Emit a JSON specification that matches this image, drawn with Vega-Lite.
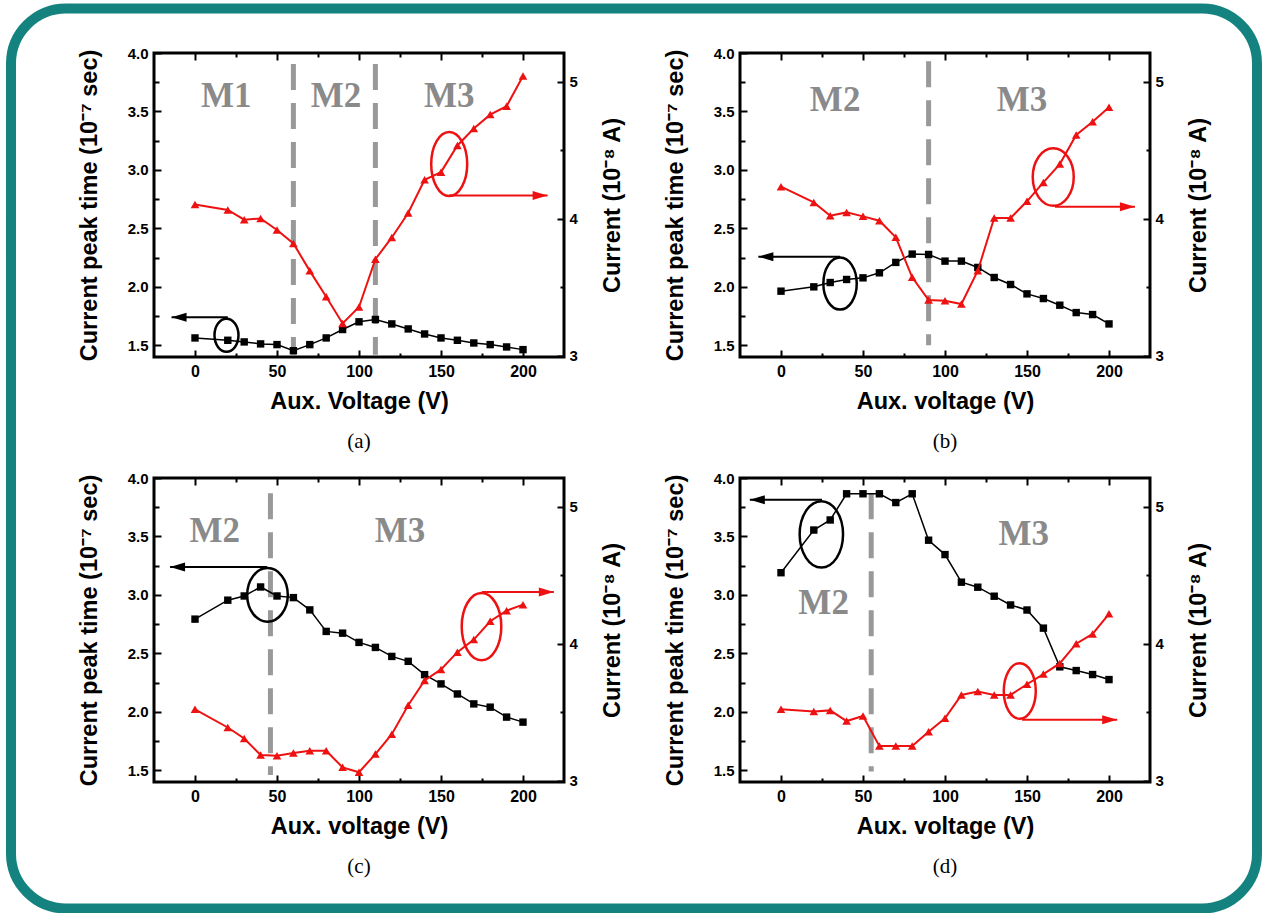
{
"$schema": "https://vega.github.io/schema/vega-lite/v6.json",
"background": "white",
"padding": {"left": 6, "top": 3, "right": 1, "bottom": 0},
"datasets": {
"series": [
{"p":"a","v":0,"t":1.563,"c":4.103},{"p":"a","v":20,"t":1.543,"c":4.064},{"p":"a","v":30,"t":1.529,"c":3.993},{"p":"a","v":40,"t":1.512,"c":4.002},{"p":"a","v":50,"t":1.506,"c":3.917},{"p":"a","v":60,"t":1.454,"c":3.819},{"p":"a","v":70,"t":1.506,"c":3.619},{"p":"a","v":80,"t":1.563,"c":3.43},{"p":"a","v":90,"t":1.635,"c":3.235},{"p":"a","v":100,"t":1.701,"c":3.355},{"p":"a","v":110,"t":1.721,"c":3.704},{"p":"a","v":120,"t":1.683,"c":3.863},{"p":"a","v":130,"t":1.64,"c":4.042},{"p":"a","v":140,"t":1.597,"c":4.284},{"p":"a","v":150,"t":1.563,"c":4.34},{"p":"a","v":160,"t":1.543,"c":4.535},{"p":"a","v":170,"t":1.52,"c":4.658},{"p":"a","v":180,"t":1.506,"c":4.76},{"p":"a","v":190,"t":1.486,"c":4.822},{"p":"a","v":200,"t":1.463,"c":5.042},
{"p":"b","v":0,"t":1.963,"c":4.234},{"p":"b","v":20,"t":2.0,"c":4.119},{"p":"b","v":30,"t":2.037,"c":4.022},{"p":"b","v":40,"t":2.063,"c":4.046},{"p":"b","v":50,"t":2.077,"c":4.017},{"p":"b","v":60,"t":2.12,"c":3.985},{"p":"b","v":70,"t":2.209,"c":3.864},{"p":"b","v":80,"t":2.28,"c":3.572},{"p":"b","v":90,"t":2.277,"c":3.406},{"p":"b","v":100,"t":2.22,"c":3.401},{"p":"b","v":110,"t":2.22,"c":3.377},{"p":"b","v":120,"t":2.166,"c":3.62},{"p":"b","v":130,"t":2.08,"c":4.005},{"p":"b","v":140,"t":2.02,"c":4.005},{"p":"b","v":150,"t":1.94,"c":4.127},{"p":"b","v":160,"t":1.9,"c":4.265},{"p":"b","v":170,"t":1.843,"c":4.399},{"p":"b","v":180,"t":1.78,"c":4.611},{"p":"b","v":190,"t":1.763,"c":4.708},{"p":"b","v":200,"t":1.683,"c":4.813},
{"p":"c","v":0,"t":2.793,"c":3.521},{"p":"c","v":20,"t":2.955,"c":3.388},{"p":"c","v":30,"t":2.991,"c":3.308},{"p":"c","v":40,"t":3.068,"c":3.187},{"p":"c","v":50,"t":2.991,"c":3.182},{"p":"c","v":60,"t":2.977,"c":3.201},{"p":"c","v":70,"t":2.872,"c":3.218},{"p":"c","v":80,"t":2.688,"c":3.218},{"p":"c","v":90,"t":2.673,"c":3.097},{"p":"c","v":100,"t":2.594,"c":3.061},{"p":"c","v":110,"t":2.551,"c":3.194},{"p":"c","v":120,"t":2.474,"c":3.339},{"p":"c","v":130,"t":2.432,"c":3.55},{"p":"c","v":140,"t":2.318,"c":3.732},{"p":"c","v":150,"t":2.239,"c":3.812},{"p":"c","v":160,"t":2.153,"c":3.938},{"p":"c","v":170,"t":2.068,"c":4.03},{"p":"c","v":180,"t":2.04,"c":4.164},{"p":"c","v":190,"t":1.955,"c":4.241},{"p":"c","v":200,"t":1.912,"c":4.285},
{"p":"d","v":0,"t":3.19,"c":3.521},{"p":"d","v":20,"t":3.555,"c":3.504},{"p":"d","v":30,"t":3.641,"c":3.513},{"p":"d","v":40,"t":3.865,"c":3.435},{"p":"d","v":50,"t":3.865,"c":3.472},{"p":"d","v":60,"t":3.865,"c":3.252},{"p":"d","v":70,"t":3.79,"c":3.252},{"p":"d","v":80,"t":3.865,"c":3.252},{"p":"d","v":90,"t":3.468,"c":3.357},{"p":"d","v":100,"t":3.345,"c":3.455},{"p":"d","v":110,"t":3.109,"c":3.626},{"p":"d","v":120,"t":3.066,"c":3.65},{"p":"d","v":130,"t":2.989,"c":3.626},{"p":"d","v":140,"t":2.914,"c":3.626},{"p":"d","v":150,"t":2.871,"c":3.704},{"p":"d","v":160,"t":2.716,"c":3.778},{"p":"d","v":170,"t":2.385,"c":3.856},{"p":"d","v":180,"t":2.353,"c":4.0},{"p":"d","v":190,"t":2.319,"c":4.071},{"p":"d","v":200,"t":2.276,"c":4.218}
],
"div": [
{"p":"a","v":60,"t":3.905,"t2":1.42},{"p":"a","v":110,"t":3.905,"t2":1.42},
{"p":"b","v":90,"t":3.93,"t2":1.5},
{"p":"c","v":46,"t":3.87,"t2":1.46},
{"p":"d","v":55,"t":3.87,"t2":1.49}
],
"reg": [
{"p":"a","v":19,"t":3.63,"label":"M1"},{"p":"a","v":86,"t":3.63,"label":"M2"},{"p":"a","v":155,"t":3.63,"label":"M3"},
{"p":"b","v":33,"t":3.6,"label":"M2"},{"p":"b","v":147,"t":3.6,"label":"M3"},
{"p":"c","v":12,"t":3.545,"label":"M2"},{"p":"c","v":125,"t":3.545,"label":"M3"},
{"p":"d","v":26,"t":2.93,"label":"M2"},{"p":"d","v":148,"t":3.52,"label":"M3"}
],
"ellk": [
{"p":"a","id":"ak","v":19.2,"t":1.586},{"p":"b","id":"bk","v":36,"t":2.028},{"p":"c","id":"ck","v":44.2,"t":3.0},{"p":"d","id":"dk","v":24.6,"t":3.518}
],
"ellr": [
{"p":"a","id":"ar","v":155,"c":4.4},{"p":"b","id":"br","v":166,"c":4.304},{"p":"c","id":"cr","v":174.7,"c":4.125},{"p":"d","id":"dr","v":145.6,"c":3.655}
],
"arrk": [
{"p":"a","v":-14.3,"v2":20,"t":1.74},{"p":"b","v":-13.8,"v2":36,"t":2.258},{"p":"c","v":-15.2,"v2":44,"t":3.238},{"p":"d","v":-19,"v2":25,"t":3.813}
],
"arrr": [
{"p":"a","v":215,"v2":155,"c":4.17},{"p":"b","v":215.8,"v2":167,"c":4.088},{"p":"c","v":218.8,"v2":175,"c":4.377},{"p":"d","v":205,"v2":147,"c":3.444}
]
},
"columns": 2,
"spacing": {"row": 121, "column": 176},
"bounds": "flush",
"concat": [
{
"width": 410, "height": 304, "title": "(a)",
"layer": [
{"encoding": {
"x": {"field":"v","type":"quantitative","scale":{"domain":[-25,225],"nice":false,"zero":false},"axis":{"orient":"bottom","title":"Aux. Voltage (V)","values":[0,25,50,75,100,125,150,175,200],"labelExpr":"datum.value % 50 === 0 ? datum.label : ''","tickSize":{"condition":{"test":"datum.value % 50 === 0","value":-7},"value":-4},"labelPadding":13,"titlePadding":7,"labelFontSize":16}},
"y": {"field":"t","type":"quantitative","scale":{"domain":[1.4,4.0],"nice":false,"zero":false},"axis":{"orient":"left","title":"Current peak time (10⁻⁷ sec)","values":[1.5,1.75,2,2.25,2.5,2.75,3,3.25,3.5,3.75,4],"labelExpr":"abs(datum.value*2-round(datum.value*2))<0.01 ? format(datum.value,'.1f') : ''","tickSize":{"condition":{"test":"abs(datum.value*2-round(datum.value*2))<0.01","value":-7},"value":-5},"labelPadding":13,"titlePadding":26,"labelFontSize":15}}},
"layer": [
{"data":{"name":"div"},"transform":[{"filter":"datum.p==='a'"}],"mark":{"type":"rule","color":"#999999","strokeWidth":5,"strokeDash":[26,13]},"encoding":{"y2":{"field":"t2"}}},
{"data":{"name":"reg"},"transform":[{"filter":"datum.p==='a'"}],"mark":{"type":"text","font":"Liberation Serif","fontWeight":"bold","fontSize":35,"color":"#8a8a8a","align":"center","baseline":"middle"},"encoding":{"text":{"field":"label","type":"nominal"}}},
{"data":{"name":"series"},"transform":[{"filter":"datum.p==='a'"}],"mark":{"type":"line","color":"black","strokeWidth":1.5,"point":{"shape":"square","size":55,"filled":true,"color":"black","opacity":1}}},
{"data":{"name":"ellk"},"transform":[{"filter":"datum.p==='a'"}],"mark":{"type":"point","filled":false,"size":4,"color":"black","strokeWidth":2.5,"opacity":1},"encoding":{"shape":{"field":"id","type":"nominal","legend":null,"scale":{"domain":["ak","ar","bk","br","ck","cr","dk","dr"],"range":["M0,-16.5A12,16.5,0,1,1,0,16.5A12,16.5,0,1,1,0,-16.5Z","M0,-32A18,32,0,1,1,0,32A18,32,0,1,1,0,-32Z","M0,-26A16.7,26,0,1,1,0,26A16.7,26,0,1,1,0,-26Z","M0,-28.7A20.5,28.7,0,1,1,0,28.7A20.5,28.7,0,1,1,0,-28.7Z","M0,-26.8A20.3,26.8,0,1,1,0,26.8A20.3,26.8,0,1,1,0,-26.8Z","M0,-33.7A19.8,33.7,0,1,1,0,33.7A19.8,33.7,0,1,1,0,-33.7Z","M0,-33.2A21.7,33.2,0,1,1,0,33.2A21.7,33.2,0,1,1,0,-33.2Z","M0,-27.8A16,27.8,0,1,1,0,27.8A16,27.8,0,1,1,0,-27.8Z"]}}}},
{"data":{"name":"arrk"},"transform":[{"filter":"datum.p==='a'"}],"mark":{"type":"rule","color":"black","strokeWidth":2},"encoding":{"x2":{"field":"v2"}}},
{"data":{"name":"arrk"},"transform":[{"filter":"datum.p==='a'"}],"mark":{"type":"point","shape":"M0,0L15,-4.5L15,4.5Z","size":4,"filled":true,"color":"black","opacity":1}}
]},
{"encoding": {
"x": {"field":"v","type":"quantitative","scale":{"domain":[-25,225],"nice":false,"zero":false},"axis":{"orient":"top","title":null,"labels":false,"values":[0,25,50,75,100,125,150,175,200],"tickSize":{"condition":{"test":"datum.value % 50 === 0","value":-7},"value":-4}}},
"y": {"field":"c","type":"quantitative","scale":{"domain":[2.99,5.21],"nice":false,"zero":false},"axis":{"orient":"right","title":"Current (10⁻⁸ A)","titleAngle":270,"titleBaseline":"top","values":[3,3.5,4,4.5,5],"labelExpr":"abs(datum.value-round(datum.value))<0.01 ? format(datum.value,'.0f') : ''","tickSize":{"condition":{"test":"abs(datum.value-round(datum.value))<0.01","value":-7},"value":-4},"labelPadding":12,"titlePadding":23,"labelFontSize":15}}},
"layer": [
{"data":{"name":"series"},"transform":[{"filter":"datum.p==='a'"}],"mark":{"type":"line","color":"#ee1111","strokeWidth":2,"point":{"shape":"triangle-up","size":75,"filled":true,"color":"#ee1111","opacity":1}}},
{"data":{"name":"ellr"},"transform":[{"filter":"datum.p==='a'"}],"mark":{"type":"point","filled":false,"size":4,"color":"#ee1111","strokeWidth":2.5,"opacity":1},"encoding":{"shape":{"field":"id","type":"nominal","legend":null,"scale":{"domain":["ak","ar","bk","br","ck","cr","dk","dr"],"range":["M0,-16.5A12,16.5,0,1,1,0,16.5A12,16.5,0,1,1,0,-16.5Z","M0,-32A18,32,0,1,1,0,32A18,32,0,1,1,0,-32Z","M0,-26A16.7,26,0,1,1,0,26A16.7,26,0,1,1,0,-26Z","M0,-28.7A20.5,28.7,0,1,1,0,28.7A20.5,28.7,0,1,1,0,-28.7Z","M0,-26.8A20.3,26.8,0,1,1,0,26.8A20.3,26.8,0,1,1,0,-26.8Z","M0,-33.7A19.8,33.7,0,1,1,0,33.7A19.8,33.7,0,1,1,0,-33.7Z","M0,-33.2A21.7,33.2,0,1,1,0,33.2A21.7,33.2,0,1,1,0,-33.2Z","M0,-27.8A16,27.8,0,1,1,0,27.8A16,27.8,0,1,1,0,-27.8Z"]}}}},
{"data":{"name":"arrr"},"transform":[{"filter":"datum.p==='a'"}],"mark":{"type":"rule","color":"#ee1111","strokeWidth":2},"encoding":{"x2":{"field":"v2"}}},
{"data":{"name":"arrr"},"transform":[{"filter":"datum.p==='a'"}],"mark":{"type":"point","shape":"M0,0L-15,-4.5L-15,4.5Z","size":4,"filled":true,"color":"#ee1111","opacity":1}}
]},
{"data":{"values":[{"z":0},{"z":1}]},"mark":{"type":"point","opacity":0},"encoding":{"color":{"field":"z","type":"quantitative","scale":{"range":["#ffffff","#ffffff"]},"legend":{"orient":"none","legendX":-143,"legendY":-44.5,"direction":"horizontal","gradientLength":1246,"gradientThickness":899,"gradientOpacity":0,"gradientStrokeWidth":0,"labelExpr":"''","labelFontSize":1,"labelOffset":0,"labelOpacity":0,"title":null,"strokeColor":"#14827e","cornerRadius":55,"padding":0}}}}
],
"resolve": {"scale": {"y": "independent"}}
},
{
"width": 410, "height": 304, "title": "(b)",
"layer": [
{"encoding": {
"x": {"field":"v","type":"quantitative","scale":{"domain":[-25,225],"nice":false,"zero":false},"axis":{"orient":"bottom","title":"Aux. voltage (V)","values":[0,25,50,75,100,125,150,175,200],"labelExpr":"datum.value % 50 === 0 ? datum.label : ''","tickSize":{"condition":{"test":"datum.value % 50 === 0","value":-7},"value":-4},"labelPadding":13,"titlePadding":7,"labelFontSize":16}},
"y": {"field":"t","type":"quantitative","scale":{"domain":[1.4,4.0],"nice":false,"zero":false},"axis":{"orient":"left","title":"Current peak time (10⁻⁷ sec)","values":[1.5,1.75,2,2.25,2.5,2.75,3,3.25,3.5,3.75,4],"labelExpr":"abs(datum.value*2-round(datum.value*2))<0.01 ? format(datum.value,'.1f') : ''","tickSize":{"condition":{"test":"abs(datum.value*2-round(datum.value*2))<0.01","value":-7},"value":-5},"labelPadding":13,"titlePadding":26,"labelFontSize":15}}},
"layer": [
{"data":{"name":"div"},"transform":[{"filter":"datum.p==='b'"}],"mark":{"type":"rule","color":"#999999","strokeWidth":5,"strokeDash":[26,13]},"encoding":{"y2":{"field":"t2"}}},
{"data":{"name":"reg"},"transform":[{"filter":"datum.p==='b'"}],"mark":{"type":"text","font":"Liberation Serif","fontWeight":"bold","fontSize":35,"color":"#8a8a8a","align":"center","baseline":"middle"},"encoding":{"text":{"field":"label","type":"nominal"}}},
{"data":{"name":"series"},"transform":[{"filter":"datum.p==='b'"}],"mark":{"type":"line","color":"black","strokeWidth":1.5,"point":{"shape":"square","size":55,"filled":true,"color":"black","opacity":1}}},
{"data":{"name":"ellk"},"transform":[{"filter":"datum.p==='b'"}],"mark":{"type":"point","filled":false,"size":4,"color":"black","strokeWidth":2.5,"opacity":1},"encoding":{"shape":{"field":"id","type":"nominal","legend":null,"scale":{"domain":["ak","ar","bk","br","ck","cr","dk","dr"],"range":["M0,-16.5A12,16.5,0,1,1,0,16.5A12,16.5,0,1,1,0,-16.5Z","M0,-32A18,32,0,1,1,0,32A18,32,0,1,1,0,-32Z","M0,-26A16.7,26,0,1,1,0,26A16.7,26,0,1,1,0,-26Z","M0,-28.7A20.5,28.7,0,1,1,0,28.7A20.5,28.7,0,1,1,0,-28.7Z","M0,-26.8A20.3,26.8,0,1,1,0,26.8A20.3,26.8,0,1,1,0,-26.8Z","M0,-33.7A19.8,33.7,0,1,1,0,33.7A19.8,33.7,0,1,1,0,-33.7Z","M0,-33.2A21.7,33.2,0,1,1,0,33.2A21.7,33.2,0,1,1,0,-33.2Z","M0,-27.8A16,27.8,0,1,1,0,27.8A16,27.8,0,1,1,0,-27.8Z"]}}}},
{"data":{"name":"arrk"},"transform":[{"filter":"datum.p==='b'"}],"mark":{"type":"rule","color":"black","strokeWidth":2},"encoding":{"x2":{"field":"v2"}}},
{"data":{"name":"arrk"},"transform":[{"filter":"datum.p==='b'"}],"mark":{"type":"point","shape":"M0,0L15,-4.5L15,4.5Z","size":4,"filled":true,"color":"black","opacity":1}}
]},
{"encoding": {
"x": {"field":"v","type":"quantitative","scale":{"domain":[-25,225],"nice":false,"zero":false},"axis":{"orient":"top","title":null,"labels":false,"values":[0,25,50,75,100,125,150,175,200],"tickSize":{"condition":{"test":"datum.value % 50 === 0","value":-7},"value":-4}}},
"y": {"field":"c","type":"quantitative","scale":{"domain":[2.99,5.21],"nice":false,"zero":false},"axis":{"orient":"right","title":"Current (10⁻⁸ A)","titleAngle":270,"titleBaseline":"top","values":[3,3.5,4,4.5,5],"labelExpr":"abs(datum.value-round(datum.value))<0.01 ? format(datum.value,'.0f') : ''","tickSize":{"condition":{"test":"abs(datum.value-round(datum.value))<0.01","value":-7},"value":-4},"labelPadding":12,"titlePadding":23,"labelFontSize":15}}},
"layer": [
{"data":{"name":"series"},"transform":[{"filter":"datum.p==='b'"}],"mark":{"type":"line","color":"#ee1111","strokeWidth":2,"point":{"shape":"triangle-up","size":75,"filled":true,"color":"#ee1111","opacity":1}}},
{"data":{"name":"ellr"},"transform":[{"filter":"datum.p==='b'"}],"mark":{"type":"point","filled":false,"size":4,"color":"#ee1111","strokeWidth":2.5,"opacity":1},"encoding":{"shape":{"field":"id","type":"nominal","legend":null,"scale":{"domain":["ak","ar","bk","br","ck","cr","dk","dr"],"range":["M0,-16.5A12,16.5,0,1,1,0,16.5A12,16.5,0,1,1,0,-16.5Z","M0,-32A18,32,0,1,1,0,32A18,32,0,1,1,0,-32Z","M0,-26A16.7,26,0,1,1,0,26A16.7,26,0,1,1,0,-26Z","M0,-28.7A20.5,28.7,0,1,1,0,28.7A20.5,28.7,0,1,1,0,-28.7Z","M0,-26.8A20.3,26.8,0,1,1,0,26.8A20.3,26.8,0,1,1,0,-26.8Z","M0,-33.7A19.8,33.7,0,1,1,0,33.7A19.8,33.7,0,1,1,0,-33.7Z","M0,-33.2A21.7,33.2,0,1,1,0,33.2A21.7,33.2,0,1,1,0,-33.2Z","M0,-27.8A16,27.8,0,1,1,0,27.8A16,27.8,0,1,1,0,-27.8Z"]}}}},
{"data":{"name":"arrr"},"transform":[{"filter":"datum.p==='b'"}],"mark":{"type":"rule","color":"#ee1111","strokeWidth":2},"encoding":{"x2":{"field":"v2"}}},
{"data":{"name":"arrr"},"transform":[{"filter":"datum.p==='b'"}],"mark":{"type":"point","shape":"M0,0L-15,-4.5L-15,4.5Z","size":4,"filled":true,"color":"#ee1111","opacity":1}}
]}
],
"resolve": {"scale": {"y": "independent"}}
},
{
"width": 410, "height": 304, "title": "(c)",
"layer": [
{"encoding": {
"x": {"field":"v","type":"quantitative","scale":{"domain":[-25,225],"nice":false,"zero":false},"axis":{"orient":"bottom","title":"Aux. voltage (V)","values":[0,25,50,75,100,125,150,175,200],"labelExpr":"datum.value % 50 === 0 ? datum.label : ''","tickSize":{"condition":{"test":"datum.value % 50 === 0","value":-7},"value":-4},"labelPadding":13,"titlePadding":7,"labelFontSize":16}},
"y": {"field":"t","type":"quantitative","scale":{"domain":[1.4,4.0],"nice":false,"zero":false},"axis":{"orient":"left","title":"Current peak time (10⁻⁷ sec)","values":[1.5,1.75,2,2.25,2.5,2.75,3,3.25,3.5,3.75,4],"labelExpr":"abs(datum.value*2-round(datum.value*2))<0.01 ? format(datum.value,'.1f') : ''","tickSize":{"condition":{"test":"abs(datum.value*2-round(datum.value*2))<0.01","value":-7},"value":-5},"labelPadding":13,"titlePadding":26,"labelFontSize":15}}},
"layer": [
{"data":{"name":"div"},"transform":[{"filter":"datum.p==='c'"}],"mark":{"type":"rule","color":"#999999","strokeWidth":5,"strokeDash":[26,13]},"encoding":{"y2":{"field":"t2"}}},
{"data":{"name":"reg"},"transform":[{"filter":"datum.p==='c'"}],"mark":{"type":"text","font":"Liberation Serif","fontWeight":"bold","fontSize":35,"color":"#8a8a8a","align":"center","baseline":"middle"},"encoding":{"text":{"field":"label","type":"nominal"}}},
{"data":{"name":"series"},"transform":[{"filter":"datum.p==='c'"}],"mark":{"type":"line","color":"black","strokeWidth":1.5,"point":{"shape":"square","size":55,"filled":true,"color":"black","opacity":1}}},
{"data":{"name":"ellk"},"transform":[{"filter":"datum.p==='c'"}],"mark":{"type":"point","filled":false,"size":4,"color":"black","strokeWidth":2.5,"opacity":1},"encoding":{"shape":{"field":"id","type":"nominal","legend":null,"scale":{"domain":["ak","ar","bk","br","ck","cr","dk","dr"],"range":["M0,-16.5A12,16.5,0,1,1,0,16.5A12,16.5,0,1,1,0,-16.5Z","M0,-32A18,32,0,1,1,0,32A18,32,0,1,1,0,-32Z","M0,-26A16.7,26,0,1,1,0,26A16.7,26,0,1,1,0,-26Z","M0,-28.7A20.5,28.7,0,1,1,0,28.7A20.5,28.7,0,1,1,0,-28.7Z","M0,-26.8A20.3,26.8,0,1,1,0,26.8A20.3,26.8,0,1,1,0,-26.8Z","M0,-33.7A19.8,33.7,0,1,1,0,33.7A19.8,33.7,0,1,1,0,-33.7Z","M0,-33.2A21.7,33.2,0,1,1,0,33.2A21.7,33.2,0,1,1,0,-33.2Z","M0,-27.8A16,27.8,0,1,1,0,27.8A16,27.8,0,1,1,0,-27.8Z"]}}}},
{"data":{"name":"arrk"},"transform":[{"filter":"datum.p==='c'"}],"mark":{"type":"rule","color":"black","strokeWidth":2},"encoding":{"x2":{"field":"v2"}}},
{"data":{"name":"arrk"},"transform":[{"filter":"datum.p==='c'"}],"mark":{"type":"point","shape":"M0,0L15,-4.5L15,4.5Z","size":4,"filled":true,"color":"black","opacity":1}}
]},
{"encoding": {
"x": {"field":"v","type":"quantitative","scale":{"domain":[-25,225],"nice":false,"zero":false},"axis":{"orient":"top","title":null,"labels":false,"values":[0,25,50,75,100,125,150,175,200],"tickSize":{"condition":{"test":"datum.value % 50 === 0","value":-7},"value":-4}}},
"y": {"field":"c","type":"quantitative","scale":{"domain":[2.99,5.21],"nice":false,"zero":false},"axis":{"orient":"right","title":"Current (10⁻⁸ A)","titleAngle":270,"titleBaseline":"top","values":[3,3.5,4,4.5,5],"labelExpr":"abs(datum.value-round(datum.value))<0.01 ? format(datum.value,'.0f') : ''","tickSize":{"condition":{"test":"abs(datum.value-round(datum.value))<0.01","value":-7},"value":-4},"labelPadding":12,"titlePadding":23,"labelFontSize":15}}},
"layer": [
{"data":{"name":"series"},"transform":[{"filter":"datum.p==='c'"}],"mark":{"type":"line","color":"#ee1111","strokeWidth":2,"point":{"shape":"triangle-up","size":75,"filled":true,"color":"#ee1111","opacity":1}}},
{"data":{"name":"ellr"},"transform":[{"filter":"datum.p==='c'"}],"mark":{"type":"point","filled":false,"size":4,"color":"#ee1111","strokeWidth":2.5,"opacity":1},"encoding":{"shape":{"field":"id","type":"nominal","legend":null,"scale":{"domain":["ak","ar","bk","br","ck","cr","dk","dr"],"range":["M0,-16.5A12,16.5,0,1,1,0,16.5A12,16.5,0,1,1,0,-16.5Z","M0,-32A18,32,0,1,1,0,32A18,32,0,1,1,0,-32Z","M0,-26A16.7,26,0,1,1,0,26A16.7,26,0,1,1,0,-26Z","M0,-28.7A20.5,28.7,0,1,1,0,28.7A20.5,28.7,0,1,1,0,-28.7Z","M0,-26.8A20.3,26.8,0,1,1,0,26.8A20.3,26.8,0,1,1,0,-26.8Z","M0,-33.7A19.8,33.7,0,1,1,0,33.7A19.8,33.7,0,1,1,0,-33.7Z","M0,-33.2A21.7,33.2,0,1,1,0,33.2A21.7,33.2,0,1,1,0,-33.2Z","M0,-27.8A16,27.8,0,1,1,0,27.8A16,27.8,0,1,1,0,-27.8Z"]}}}},
{"data":{"name":"arrr"},"transform":[{"filter":"datum.p==='c'"}],"mark":{"type":"rule","color":"#ee1111","strokeWidth":2},"encoding":{"x2":{"field":"v2"}}},
{"data":{"name":"arrr"},"transform":[{"filter":"datum.p==='c'"}],"mark":{"type":"point","shape":"M0,0L-15,-4.5L-15,4.5Z","size":4,"filled":true,"color":"#ee1111","opacity":1}}
]}
],
"resolve": {"scale": {"y": "independent"}}
},
{
"width": 410, "height": 304, "title": "(d)",
"layer": [
{"encoding": {
"x": {"field":"v","type":"quantitative","scale":{"domain":[-25,225],"nice":false,"zero":false},"axis":{"orient":"bottom","title":"Aux. voltage (V)","values":[0,25,50,75,100,125,150,175,200],"labelExpr":"datum.value % 50 === 0 ? datum.label : ''","tickSize":{"condition":{"test":"datum.value % 50 === 0","value":-7},"value":-4},"labelPadding":13,"titlePadding":7,"labelFontSize":16}},
"y": {"field":"t","type":"quantitative","scale":{"domain":[1.4,4.0],"nice":false,"zero":false},"axis":{"orient":"left","title":"Current peak time (10⁻⁷ sec)","values":[1.5,1.75,2,2.25,2.5,2.75,3,3.25,3.5,3.75,4],"labelExpr":"abs(datum.value*2-round(datum.value*2))<0.01 ? format(datum.value,'.1f') : ''","tickSize":{"condition":{"test":"abs(datum.value*2-round(datum.value*2))<0.01","value":-7},"value":-5},"labelPadding":13,"titlePadding":26,"labelFontSize":15}}},
"layer": [
{"data":{"name":"div"},"transform":[{"filter":"datum.p==='d'"}],"mark":{"type":"rule","color":"#999999","strokeWidth":5,"strokeDash":[26,13]},"encoding":{"y2":{"field":"t2"}}},
{"data":{"name":"reg"},"transform":[{"filter":"datum.p==='d'"}],"mark":{"type":"text","font":"Liberation Serif","fontWeight":"bold","fontSize":35,"color":"#8a8a8a","align":"center","baseline":"middle"},"encoding":{"text":{"field":"label","type":"nominal"}}},
{"data":{"name":"series"},"transform":[{"filter":"datum.p==='d'"}],"mark":{"type":"line","color":"black","strokeWidth":1.5,"point":{"shape":"square","size":55,"filled":true,"color":"black","opacity":1}}},
{"data":{"name":"ellk"},"transform":[{"filter":"datum.p==='d'"}],"mark":{"type":"point","filled":false,"size":4,"color":"black","strokeWidth":2.5,"opacity":1},"encoding":{"shape":{"field":"id","type":"nominal","legend":null,"scale":{"domain":["ak","ar","bk","br","ck","cr","dk","dr"],"range":["M0,-16.5A12,16.5,0,1,1,0,16.5A12,16.5,0,1,1,0,-16.5Z","M0,-32A18,32,0,1,1,0,32A18,32,0,1,1,0,-32Z","M0,-26A16.7,26,0,1,1,0,26A16.7,26,0,1,1,0,-26Z","M0,-28.7A20.5,28.7,0,1,1,0,28.7A20.5,28.7,0,1,1,0,-28.7Z","M0,-26.8A20.3,26.8,0,1,1,0,26.8A20.3,26.8,0,1,1,0,-26.8Z","M0,-33.7A19.8,33.7,0,1,1,0,33.7A19.8,33.7,0,1,1,0,-33.7Z","M0,-33.2A21.7,33.2,0,1,1,0,33.2A21.7,33.2,0,1,1,0,-33.2Z","M0,-27.8A16,27.8,0,1,1,0,27.8A16,27.8,0,1,1,0,-27.8Z"]}}}},
{"data":{"name":"arrk"},"transform":[{"filter":"datum.p==='d'"}],"mark":{"type":"rule","color":"black","strokeWidth":2},"encoding":{"x2":{"field":"v2"}}},
{"data":{"name":"arrk"},"transform":[{"filter":"datum.p==='d'"}],"mark":{"type":"point","shape":"M0,0L15,-4.5L15,4.5Z","size":4,"filled":true,"color":"black","opacity":1}}
]},
{"encoding": {
"x": {"field":"v","type":"quantitative","scale":{"domain":[-25,225],"nice":false,"zero":false},"axis":{"orient":"top","title":null,"labels":false,"values":[0,25,50,75,100,125,150,175,200],"tickSize":{"condition":{"test":"datum.value % 50 === 0","value":-7},"value":-4}}},
"y": {"field":"c","type":"quantitative","scale":{"domain":[2.99,5.21],"nice":false,"zero":false},"axis":{"orient":"right","title":"Current (10⁻⁸ A)","titleAngle":270,"titleBaseline":"top","values":[3,3.5,4,4.5,5],"labelExpr":"abs(datum.value-round(datum.value))<0.01 ? format(datum.value,'.0f') : ''","tickSize":{"condition":{"test":"abs(datum.value-round(datum.value))<0.01","value":-7},"value":-4},"labelPadding":12,"titlePadding":23,"labelFontSize":15}}},
"layer": [
{"data":{"name":"series"},"transform":[{"filter":"datum.p==='d'"}],"mark":{"type":"line","color":"#ee1111","strokeWidth":2,"point":{"shape":"triangle-up","size":75,"filled":true,"color":"#ee1111","opacity":1}}},
{"data":{"name":"ellr"},"transform":[{"filter":"datum.p==='d'"}],"mark":{"type":"point","filled":false,"size":4,"color":"#ee1111","strokeWidth":2.5,"opacity":1},"encoding":{"shape":{"field":"id","type":"nominal","legend":null,"scale":{"domain":["ak","ar","bk","br","ck","cr","dk","dr"],"range":["M0,-16.5A12,16.5,0,1,1,0,16.5A12,16.5,0,1,1,0,-16.5Z","M0,-32A18,32,0,1,1,0,32A18,32,0,1,1,0,-32Z","M0,-26A16.7,26,0,1,1,0,26A16.7,26,0,1,1,0,-26Z","M0,-28.7A20.5,28.7,0,1,1,0,28.7A20.5,28.7,0,1,1,0,-28.7Z","M0,-26.8A20.3,26.8,0,1,1,0,26.8A20.3,26.8,0,1,1,0,-26.8Z","M0,-33.7A19.8,33.7,0,1,1,0,33.7A19.8,33.7,0,1,1,0,-33.7Z","M0,-33.2A21.7,33.2,0,1,1,0,33.2A21.7,33.2,0,1,1,0,-33.2Z","M0,-27.8A16,27.8,0,1,1,0,27.8A16,27.8,0,1,1,0,-27.8Z"]}}}},
{"data":{"name":"arrr"},"transform":[{"filter":"datum.p==='d'"}],"mark":{"type":"rule","color":"#ee1111","strokeWidth":2},"encoding":{"x2":{"field":"v2"}}},
{"data":{"name":"arrr"},"transform":[{"filter":"datum.p==='d'"}],"mark":{"type":"point","shape":"M0,0L-15,-4.5L-15,4.5Z","size":4,"filled":true,"color":"#ee1111","opacity":1}}
]}
],
"resolve": {"scale": {"y": "independent"}}
}
],
"config": {
"view": {"stroke": "black", "strokeWidth": 3},
"axis": {"domain": false, "grid": false, "tickColor": "black", "tickWidth": 2, "labelFont": "Liberation Sans", "labelFontWeight": "bold", "labelColor": "black", "titleFont": "Liberation Sans", "titleFontWeight": "bold", "titleFontSize": 23.5, "titleColor": "black", "labelOverlap": false, "labelFlush": false},
"legend": {"strokeWidth": 10},
"title": {"orient": "bottom", "frame": "group", "offset": 18, "font": "Liberation Serif", "fontSize": 21, "fontWeight": "normal", "color": "black", "anchor": "middle"}
}
}
